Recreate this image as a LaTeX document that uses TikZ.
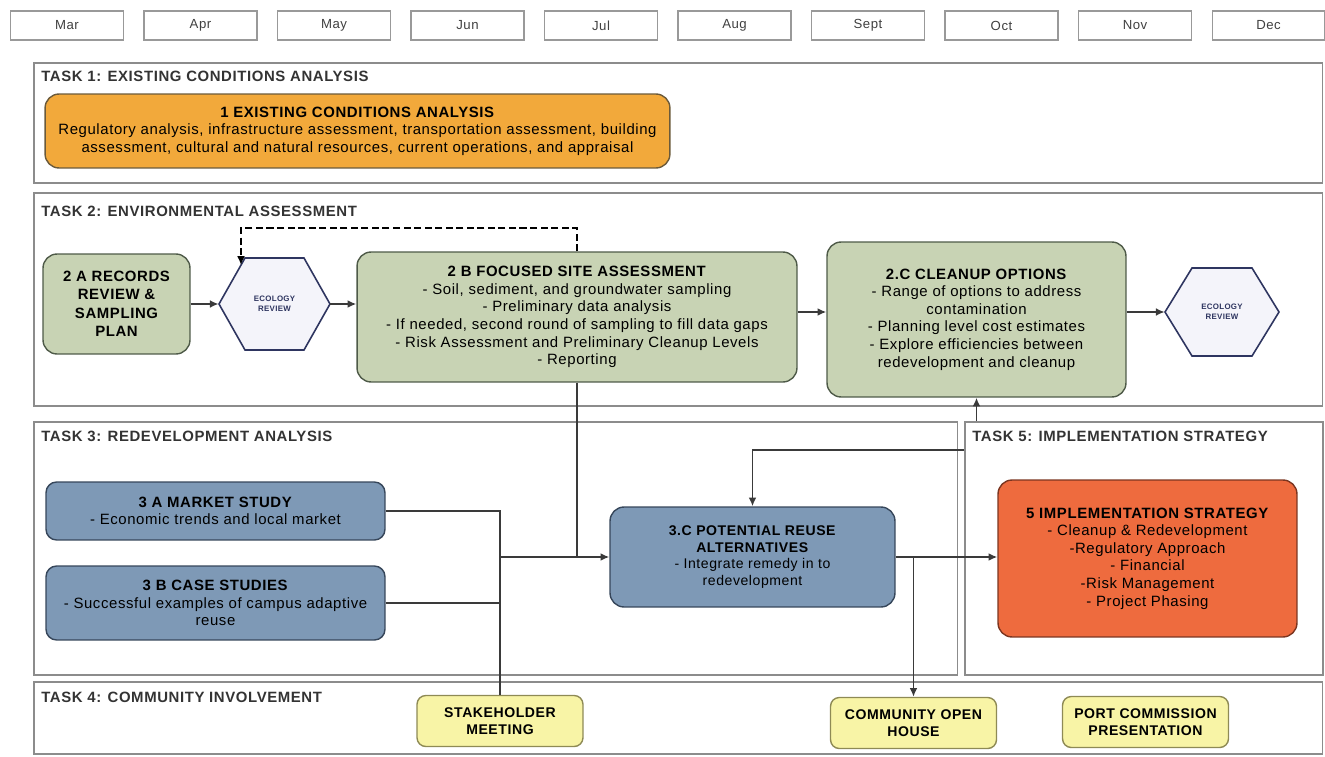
\documentclass[tikz,border=0pt]{standalone}
\usepackage{fontspec}
\setmainfont{Liberation Sans}[LetterSpace=4]
\usepackage{xcolor}
\usetikzlibrary{arrows.meta,calc}

\definecolor{framegray}{HTML}{8C8C8C}
\definecolor{linegray}{HTML}{3A3A3A}
\definecolor{orangefill}{HTML}{F2A93B}
\definecolor{orangeline}{HTML}{6B5A3A}
\definecolor{greenfill}{HTML}{C8D3B4}
\definecolor{greenline}{HTML}{4E5A48}
\definecolor{hexfill}{HTML}{F4F4FA}
\definecolor{hexline}{HTML}{2E3560}
\definecolor{bluefill}{HTML}{7E99B6}
\definecolor{blueline}{HTML}{36465A}
\definecolor{implfill}{HTML}{EE6B3E}
\definecolor{implline}{HTML}{7B3520}
\definecolor{yellowfill}{HTML}{F8F4A6}
\definecolor{yellowline}{HTML}{8E8A55}

\tikzset{
  taskframe/.style={draw=framegray, line width=0.9pt, anchor=north west, inner sep=0pt},
  tasktitle/.style={anchor=west, inner sep=0pt, font=\fontsize{8.5}{10}\selectfont\bfseries, text=black!80},
  month/.style={draw=gray!80, line width=0.6pt, minimum width=2.26cm, minimum height=0.58cm, font=\fontsize{7.5}{9}\selectfont, text=black!75},
  box/.style={line width=0.8pt, rounded corners=8pt, align=center, inner sep=2pt, font=\fontsize{8.5}{10}\selectfont},
  greenbox/.style={box, fill=greenfill, draw=greenline},
  bluebox/.style={box, fill=bluefill, draw=blueline, rounded corners=6pt},
  yellowbox/.style={box, fill=yellowfill, draw=yellowline, rounded corners=5pt, minimum width=3.32cm, minimum height=1.02cm, font=\fontsize{8}{9.6}\selectfont\bfseries},
  hexagon/.style={fill=hexfill, draw=hexline, line width=0.9pt},
  hextext/.style={align=center, inner sep=0pt, text=hexline, font=\fontsize{4.5}{5.5}\selectfont\bfseries},
  wire/.style={line width=1pt, draw=linegray},
  arr/.style={wire, -{Latex[length=5pt,width=4.5pt]}},
}

\begin{document}
\begin{tikzpicture}[x=0.02cm, y=-0.02cm]
    \useasboundingbox (0,0) rectangle (1325,757);

    % Months
    \foreach \m [count=\i from 0] in {Mar,Apr,May,Jun,Jul,Aug,Sept,Oct,Nov,Dec}
        \node[month] (m\i) at ({67+133.5*\i},25.5) {\m};

    % Task frames
    \node[taskframe, minimum width=25.78cm, minimum height=2.4cm] (f1) at (33,62) {};
    \node[taskframe, minimum width=25.78cm, minimum height=4.26cm] (f2) at (33,192) {};
    \node[taskframe, minimum width=18.48cm, minimum height=5.06cm] (f3) at (33,421) {};
    \node[taskframe, minimum width=7.16cm, minimum height=5.06cm] (f5) at (964,421) {};
    \node[taskframe, minimum width=25.78cm, minimum height=1.44cm] (f4) at (33,681) {};
    \node[tasktitle] (t1) at (41,76) {TASK 1: EXISTING CONDITIONS ANALYSIS};
    \node[tasktitle] (t2) at (41,211) {TASK 2: ENVIRONMENTAL ASSESSMENT};
    \node[tasktitle] (t3) at (41,436) {TASK 3: REDEVELOPMENT ANALYSIS};
    \node[tasktitle] (t5) at (972,436) {TASK 5: IMPLEMENTATION STRATEGY};
    \node[tasktitle] (t4) at (41,697) {TASK 4: COMMUNITY INVOLVEMENT};

    % Task 1
    \node[box, fill=orangefill, draw=orangeline, minimum width=12.5cm, minimum height=1.48cm] (x1) at (357.5,131)
        {\textbf{1 EXISTING CONDITIONS ANALYSIS}\\Regulatory analysis, infrastructure assessment, transportation assessment, building\\assessment, cultural and natural resources, current operations, and appraisal};

    % Task 2
    \node[greenbox, minimum width=2.94cm, minimum height=2cm, font=\fontsize{8.5}{10.5}\selectfont\bfseries] (a2) at (116.5,304)
        {2 A RECORDS\\REVIEW \&\\SAMPLING\\PLAN};
    \draw[hexagon] (219,304) -- (245,258) -- (304,258) -- (330,304) -- (304,350) -- (245,350) -- cycle;
    \coordinate (e1in) at (241,265);
    \node[hextext, minimum width=2.22cm, minimum height=1.84cm] (e1) at (274.5,304) {ECOLOGY\\REVIEW};
    \node[greenbox, minimum width=8.8cm, minimum height=2.6cm] (b2) at (577,317)
        {\textbf{2 B FOCUSED SITE ASSESSMENT}\\- Soil, sediment, and groundwater sampling\\- Preliminary data analysis\\- If needed, second round of sampling to fill data gaps\\- Risk Assessment and Preliminary Cleanup Levels\\- Reporting};
    \node[greenbox, minimum width=5.98cm, minimum height=3.1cm] (c2) at (976.5,319.5)
        {\textbf{2.C CLEANUP OPTIONS}\\- Range of options to address\\contamination\\- Planning level cost estimates\\- Explore efficiencies between\\redevelopment and cleanup};
    \draw[hexagon] (1165,312) -- (1192,268) -- (1252,268) -- (1279,312) -- (1252,356) -- (1192,356) -- cycle;
    \node[hextext, minimum width=2.28cm, minimum height=1.76cm] (e2) at (1222,312) {ECOLOGY\\REVIEW};

    \draw[arr] (a2.east) -- (e1.west);
    \draw[arr] (e1.east) -- (e1.east -| b2.west);
    \draw[arr] (b2.east |- e2) -- (c2.west |- e2);
    \draw[arr] (c2.east |- e2) -- (e2.west);
    \coordinate (dtop) at (0,228);
    \draw[arr, dashed, dash pattern=on 4pt off 2pt, draw=black] (b2.north) -- (b2.north |- dtop) -| (e1in);

    % Task 3
    \node[bluebox, minimum width=6.78cm, minimum height=1.16cm] (a3) at (215.5,511)
        {\textbf{3 A MARKET STUDY}\\- Economic trends and local market};
    \node[bluebox, minimum width=6.78cm, minimum height=1.48cm] (b3) at (215.5,603)
        {\textbf{3 B CASE STUDIES}\\- Successful examples of campus adaptive\\reuse};
    \node[bluebox, rounded corners=8pt, minimum width=5.7cm, minimum height=2cm, font=\fontsize{8}{9.6}\selectfont] (c3) at (752.5,557)
        {\textbf{3.C POTENTIAL REUSE}\\\textbf{ALTERNATIVES}\\- Integrate remedy in to\\redevelopment};

    % Task 5
    \node[box, fill=implfill, draw=implline, minimum width=5.98cm, minimum height=3.14cm] (s5) at (1147.5,558.5)
        {\textbf{5 IMPLEMENTATION STRATEGY}\\- Cleanup \& Redevelopment\\-Regulatory Approach\\- Financial\\-Risk Management\\- Project Phasing};

    % Task 4
    \node[yellowbox] (sm) at (500,721) {STAKEHOLDER\\MEETING};
    \node[yellowbox] (coh) at (913.5,723) {COMMUNITY OPEN\\HOUSE};
    \node[yellowbox] (pcp) at (1145.5,722) {PORT COMMISSION\\PRESENTATION};

    % Links
    \draw[wire] (a3.east) -| (sm.north);
    \draw[wire] (b3.east) -- (b3.east -| sm.north);
    \draw[arr] (sm.north |- c3.west) -- (c3.west);
    \draw[wire] (b2.south) -- (b2.south |- c3.west);
    \draw[arr] (c3.east) -- (c3.east -| s5.west);
    \draw[arr] (c3.east -| coh.north) -- (coh.north);
    \draw[arr] (f5.north -| c2.south) -- (c2.south);
    \draw[arr] (f5.north west) ++(0,29) -| (c3.north);
\end{tikzpicture}
\end{document}
